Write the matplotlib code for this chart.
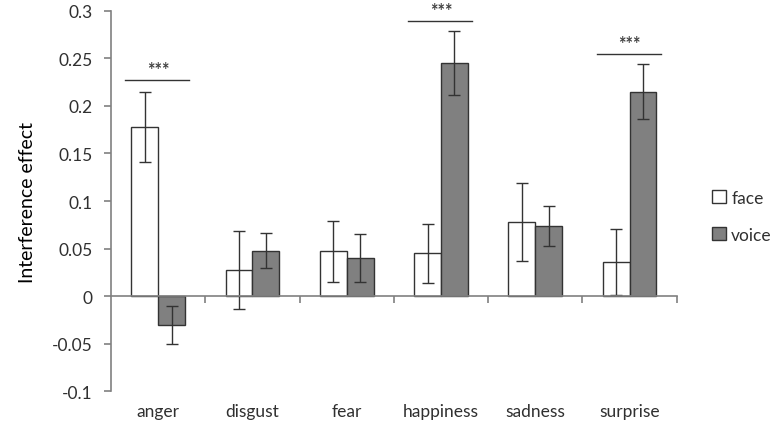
import numpy as np
import matplotlib
matplotlib.use('Agg')
import matplotlib.pyplot as plt

plt.rcParams['font.family'] = ['Lato', 'DejaVu Sans']
plt.rcParams['text.color'] = '#303030'

categories = ['anger', 'disgust', 'fear', 'happiness', 'sadness', 'surprise']
face = [0.178, 0.028, 0.047, 0.045, 0.078, 0.036]
face_err = [0.037, 0.041, 0.032, 0.031, 0.041, 0.035]
voice = [-0.030, 0.048, 0.040, 0.245, 0.074, 0.215]
voice_err = [0.020, 0.018, 0.025, 0.034, 0.021, 0.029]
# significance bars: category index, line height
sig_idx = [0, 3, 5]
sig_y = [0.227, 0.289, 0.255]

fig = plt.figure(figsize=(7.77, 4.35), dpi=100)
ax = fig.add_axes([0.1429, 0.098, 0.7281, 0.875])

x = np.arange(len(categories)) + 0.5
w = 0.285
ekw = dict(ecolor='#333333', elinewidth=1, capsize=4, capthick=1)
ax.bar(x - w / 2, face, w, yerr=face_err, color='white', edgecolor='#333333',
       linewidth=1, error_kw=ekw, label='face', zorder=2)
ax.bar(x + w / 2, voice, w, yerr=voice_err, color='#808080', edgecolor='#333333',
       linewidth=1, error_kw=ekw, label='voice', zorder=2)

for i, y in zip(sig_idx, sig_y):
    ax.plot([x[i] - 0.35, x[i] + 0.33], [y, y], color='#333333', lw=1)
    ax.text(x[i], y + 0.002, '***', ha='center', va='bottom', fontsize=13,
            fontweight='bold', color='#404040')

ax.set_xlim(0, 6)
ax.set_ylim(-0.1, 0.3)
ax.set_yticks(np.arange(-0.1, 0.301, 0.05))
ax.set_yticklabels(['-0.1', '-0.05', '0', '0.05', '0.1', '0.15', '0.2', '0.25', '0.3'])

ax.spines['top'].set_visible(False)
ax.spines['right'].set_visible(False)
ax.spines['bottom'].set_position(('data', 0))
for s in ['left', 'bottom']:
    ax.spines[s].set_color('#808080')
    ax.spines[s].set_linewidth(1.2)
ax.set_xticks(np.arange(1, 7))
ax.set_xticklabels([])
ax.tick_params(axis='x', length=5, color='#808080', width=1.2)
ax.tick_params(axis='y', length=5, pad=8, color='#808080', width=1.2, labelsize=12.5,
               labelcolor='#303030')

for xi, c in zip(x, categories):
    ax.text(xi, -0.112, c, ha='center', va='top', fontsize=12.5,
            transform=ax.transData)

ax.set_ylabel('Interference effect', fontsize=14, labelpad=12)

ax.legend(loc='center left', bbox_to_anchor=(1.035, 0.46), frameon=False, fontsize=12.5,
          handlelength=0.8, handleheight=0.8, handletextpad=0.3, labelspacing=1.2)

fig.savefig('out.png', dpi=100)
